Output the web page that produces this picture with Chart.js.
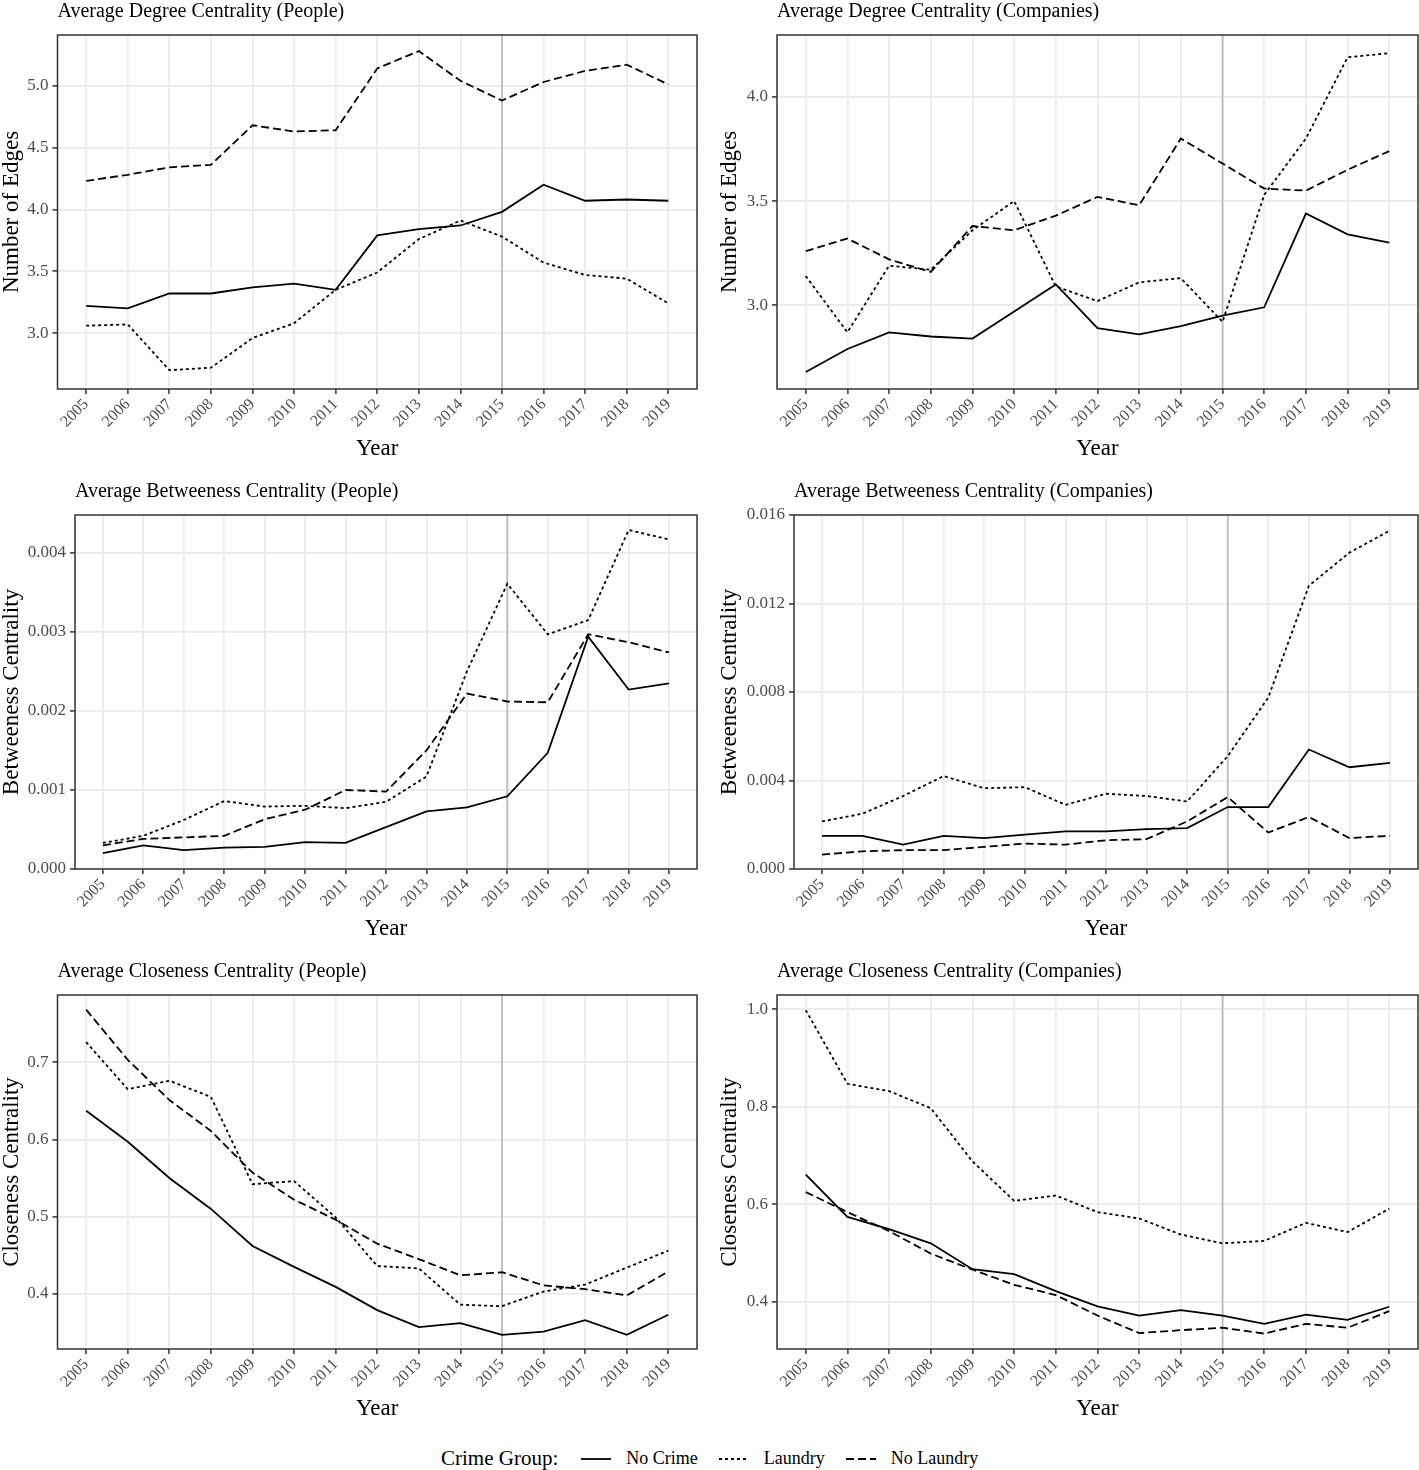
<!DOCTYPE html>
<html>
<head>
<meta charset="utf-8">
<script src="https://cdn.jsdelivr.net/npm/chart.js@4.4.1/dist/chart.umd.min.js"></script>
<style>
  body { margin: 0; background: #fff; width: 1419px; height: 1470px; position: relative; overflow: hidden; }
  canvas { position: absolute; }
  #legend { position: absolute; top: 1446px; left: 441px; height: 26px; white-space: nowrap; font-family: "Liberation Serif", serif; color: #000; }
  #legend span, #legend svg { vertical-align: middle; }
  #legend .lab { font-size: 18px; margin: 0 20px 0 14px; }
  #legend .head { font-size: 21px; margin-right: 22px; }
</style>
</head>
<body>
<canvas id="c0"></canvas>
<canvas id="c1"></canvas>
<canvas id="c2"></canvas>
<canvas id="c3"></canvas>
<canvas id="c4"></canvas>
<canvas id="c5"></canvas>
<div id="legend"></div>
<script>
const years = [2005, 2006, 2007, 2008, 2009, 2010, 2011, 2012, 2013, 2014, 2015, 2016, 2017, 2018, 2019];
const groups = ['No Crime', 'Laundry', 'No Laundry'];

// degree centrality
const degPeopleNoCrime  = [3.22, 3.20, 3.32, 3.32, 3.37, 3.40, 3.35, 3.79, 3.84, 3.87, 3.98, 4.20, 4.07, 4.08, 4.07];
const degPeopleLaundry  = [3.06, 3.07, 2.70, 2.72, 2.96, 3.08, 3.35, 3.49, 3.76, 3.91, 3.78, 3.57, 3.47, 3.44, 3.24];
const degPeopleNoLaund  = [4.23, 4.28, 4.34, 4.36, 4.68, 4.63, 4.64, 5.14, 5.28, 5.04, 4.88, 5.03, 5.12, 5.17, 5.01];
const degCompNoCrime    = [2.68, 2.79, 2.87, 2.85, 2.84, 2.97, 3.10, 2.89, 2.86, 2.90, 2.95, 2.99, 3.44, 3.34, 3.30];
const degCompLaundry    = [3.14, 2.87, 3.19, 3.17, 3.36, 3.50, 3.09, 3.02, 3.11, 3.13, 2.92, 3.53, 3.80, 4.19, 4.21];
const degCompNoLaund    = [3.26, 3.32, 3.22, 3.16, 3.38, 3.36, 3.43, 3.52, 3.48, 3.80, 3.68, 3.56, 3.55, 3.65, 3.74];

// betweeness centrality
const betPeopleNoCrime  = [0.00020, 0.00030, 0.00024, 0.00027, 0.00028, 0.00034, 0.00033, 0.00053, 0.00073, 0.00078, 0.00092, 0.00147, 0.00294, 0.00227, 0.00235];
const betPeopleLaundry  = [0.00033, 0.00042, 0.00062, 0.00086, 0.00079, 0.00080, 0.00077, 0.00085, 0.00117, 0.00250, 0.00361, 0.00297, 0.00315, 0.00429, 0.00417];
const betPeopleNoLaund  = [0.00030, 0.00038, 0.00040, 0.00042, 0.00063, 0.00075, 0.00100, 0.00098, 0.00150, 0.00222, 0.00212, 0.00211, 0.00297, 0.00287, 0.00274];
const betCompNoCrime    = [0.00150, 0.00150, 0.00110, 0.00150, 0.00140, 0.00155, 0.00170, 0.00170, 0.00180, 0.00185, 0.00280, 0.00280, 0.00540, 0.00460, 0.00480];
const betCompLaundry    = [0.00215, 0.00250, 0.00330, 0.00420, 0.00365, 0.00370, 0.00290, 0.00340, 0.00330, 0.00305, 0.00510, 0.00775, 0.01280, 0.01430, 0.01530];
const betCompNoLaund    = [0.00065, 0.00080, 0.00085, 0.00085, 0.00100, 0.00115, 0.00110, 0.00130, 0.00135, 0.00215, 0.00325, 0.00165, 0.00235, 0.00140, 0.00150];

// closeness centrality
const cloPeopleNoCrime  = [0.637, 0.597, 0.550, 0.510, 0.462, 0.435, 0.409, 0.379, 0.357, 0.362, 0.347, 0.351, 0.366, 0.347, 0.373];
const cloPeopleLaundry  = [0.726, 0.665, 0.676, 0.655, 0.542, 0.546, 0.499, 0.436, 0.433, 0.386, 0.384, 0.403, 0.412, 0.434, 0.456];
const cloPeopleNoLaund  = [0.768, 0.703, 0.651, 0.611, 0.557, 0.522, 0.496, 0.465, 0.445, 0.424, 0.428, 0.411, 0.406, 0.398, 0.429];
const cloCompNoCrime    = [0.661, 0.574, 0.549, 0.520, 0.467, 0.457, 0.422, 0.391, 0.372, 0.383, 0.372, 0.355, 0.374, 0.363, 0.390];
const cloCompLaundry    = [0.998, 0.847, 0.832, 0.797, 0.688, 0.607, 0.618, 0.584, 0.571, 0.538, 0.520, 0.525, 0.562, 0.543, 0.591];
const cloCompNoLaund    = [0.625, 0.584, 0.545, 0.499, 0.466, 0.435, 0.414, 0.372, 0.336, 0.342, 0.347, 0.335, 0.355, 0.347, 0.381];

// y tick labels per panel
const degPeopleTicks = ['3.0', '3.5', '4.0', '4.5', '5.0'];
const degCompTicks   = ['3.0', '3.5', '4.0'];
const betPeopleTicks = ['0.000', '0.001', '0.002', '0.003', '0.004'];
const betCompTicks   = ['0.000', '0.004', '0.008', '0.012', '0.016'];
const cloPeopleTicks = ['0.4', '0.5', '0.6', '0.7'];
const cloCompTicks   = ['0.4', '0.6', '0.8', '1.0'];

const markYear = 2015;
const FONT = '"Liberation Serif", serif';
const dashes = [[], [3, 3], [8, 4]];

const panels = [
  { title: 'Average Degree Centrality (People)', ytitle: 'Number of Edges', s: [degPeopleNoCrime, degPeopleLaundry, degPeopleNoLaund], ticks: degPeopleTicks, min: 2.548, max: 5.41, x: 0, y: 0, axisW: 57.5, padL: 0, padR: 12 },
  { title: 'Average Degree Centrality (Companies)', ytitle: 'Number of Edges', s: [degCompNoCrime, degCompLaundry, degCompNoLaund], ticks: degCompTicks, min: 2.598, max: 4.297, x: 710, y: 0, axisW: 67, padL: 8, padR: 1 },
  { title: 'Average Betweeness Centrality (People)', ytitle: 'Betweeness Centrality', s: [betPeopleNoCrime, betPeopleLaundry, betPeopleNoLaund], ticks: betPeopleTicks, min: 0, max: 0.00448, x: 0, y: 480, axisW: 75, padL: 0, padR: 12 },
  { title: 'Average Betweeness Centrality (Companies)', ytitle: 'Betweeness Centrality', s: [betCompNoCrime, betCompLaundry, betCompNoLaund], ticks: betCompTicks, min: 0, max: 0.016, x: 710, y: 480, axisW: 84, padL: 8, padR: 1 },
  { title: 'Average Closeness Centrality (People)', ytitle: 'Closeness Centrality', s: [cloPeopleNoCrime, cloPeopleLaundry, cloPeopleNoLaund], ticks: cloPeopleTicks, min: 0.3286, max: 0.787, x: 0, y: 960, axisW: 57.5, padL: 0, padR: 12 },
  { title: 'Average Closeness Centrality (Companies)', ytitle: 'Closeness Centrality', s: [cloCompNoCrime, cloCompLaundry, cloCompNoLaund], ticks: cloCompTicks, min: 0.3034, max: 1.029, x: 710, y: 960, axisW: 67, padL: 8, padR: 1 }
];

// panel border and the 2015 reference line
const panelDeco = {
  id: 'panelDeco',
  beforeDatasetsDraw(chart) {
    const ctx = chart.ctx, a = chart.chartArea;
    const px = chart.scales.x.getPixelForValue(markYear);
    ctx.save();
    ctx.strokeStyle = '#bdbdbd';
    ctx.lineWidth = 1.8;
    ctx.beginPath();
    ctx.moveTo(px, a.top);
    ctx.lineTo(px, a.bottom);
    ctx.stroke();
    ctx.restore();
  },
  afterDraw(chart) {
    const ctx = chart.ctx, a = chart.chartArea;
    ctx.save();
    ctx.strokeStyle = '#333333';
    ctx.lineWidth = 1.5;
    ctx.strokeRect(a.left, a.top, a.right - a.left, a.bottom - a.top);
    ctx.restore();
  }
};

panels.forEach((p, i) => {
  const cv = document.getElementById('c' + i);
  cv.width = 709; cv.height = 470;
  cv.style.left = p.x + 'px'; cv.style.top = p.y + 'px';
  const tickVals = p.ticks.map(Number);
  new Chart(cv.getContext('2d'), {
    type: 'line',
    data: {
      datasets: p.s.map((vals, k) => ({
        label: groups[k],
        data: years.map((yr, j) => ({ x: yr, y: vals[j] })),
        borderColor: '#000',
        borderWidth: 1.8,
        borderDash: dashes[k],
        pointRadius: 0,
        tension: 0,
        fill: false
      }))
    },
    options: {
      responsive: false,
      animation: false,
      devicePixelRatio: 1,
      layout: { padding: { left: p.padL, right: p.padR, top: 0, bottom: 6 } },
      plugins: {
        legend: { display: false },
        tooltip: { enabled: false },
        title: {
          display: true, text: p.title, align: 'start', fullSize: false,
          color: '#000', font: { family: FONT, size: 20, weight: 'normal', lineHeight: 1.2 },
          padding: { top: 0, bottom: 11 }
        }
      },
      scales: {
        x: {
          type: 'linear', min: 2004.31, max: 2019.69,
          afterBuildTicks: s => { s.ticks = years.map(v => ({ value: v })); },
          afterFit: s => { s.height = 75; },
          grid: { color: '#ebebeb', lineWidth: 1.8, tickColor: '#333', tickWidth: 1.5, tickLength: 5 },
          border: { display: false },
          ticks: {
            autoSkip: false, minRotation: 45, maxRotation: 45, padding: 1,
            color: '#4d4d4d', font: { family: FONT, size: 16 },
            callback: v => String(v)
          },
          title: { display: true, text: 'Year', color: '#000', font: { family: FONT, size: 23, lineHeight: 1.0 }, padding: { top: 0, bottom: 4 } }
        },
        y: {
          min: p.min, max: p.max,
          afterBuildTicks: s => { s.ticks = tickVals.map(v => ({ value: v })); },
          afterFit: s => { s.width = p.axisW - p.padL; },
          grid: { color: '#ebebeb', lineWidth: 1.8, tickColor: '#333', tickWidth: 1.5, tickLength: 5 },
          border: { display: false },
          ticks: {
            padding: 4, color: '#4d4d4d', font: { family: FONT, size: 17 },
            callback: v => p.ticks[tickVals.indexOf(v)]
          },
          title: { display: true, text: p.ytitle, color: '#000', font: { family: FONT, size: 23, lineHeight: 1.0 }, padding: { top: 0, bottom: 0 } }
        }
      }
    },
    plugins: [panelDeco]
  });
});

// shared legend
const lg = document.getElementById('legend');
let html = '<span class="head">Crime Group:</span>';
const dashAttr = ['', '3,3', '8,4'];
groups.forEach((g, k) => {
  html += '<svg width="32" height="10"><line x1="1" y1="5" x2="31" y2="5" stroke="#000" stroke-width="1.8"' +
    (dashAttr[k] ? ' stroke-dasharray="' + dashAttr[k] + '"' : '') + '/></svg>' +
    '<span class="lab">' + g + '</span>';
});
lg.innerHTML = html;
</script>
</body>
</html>
